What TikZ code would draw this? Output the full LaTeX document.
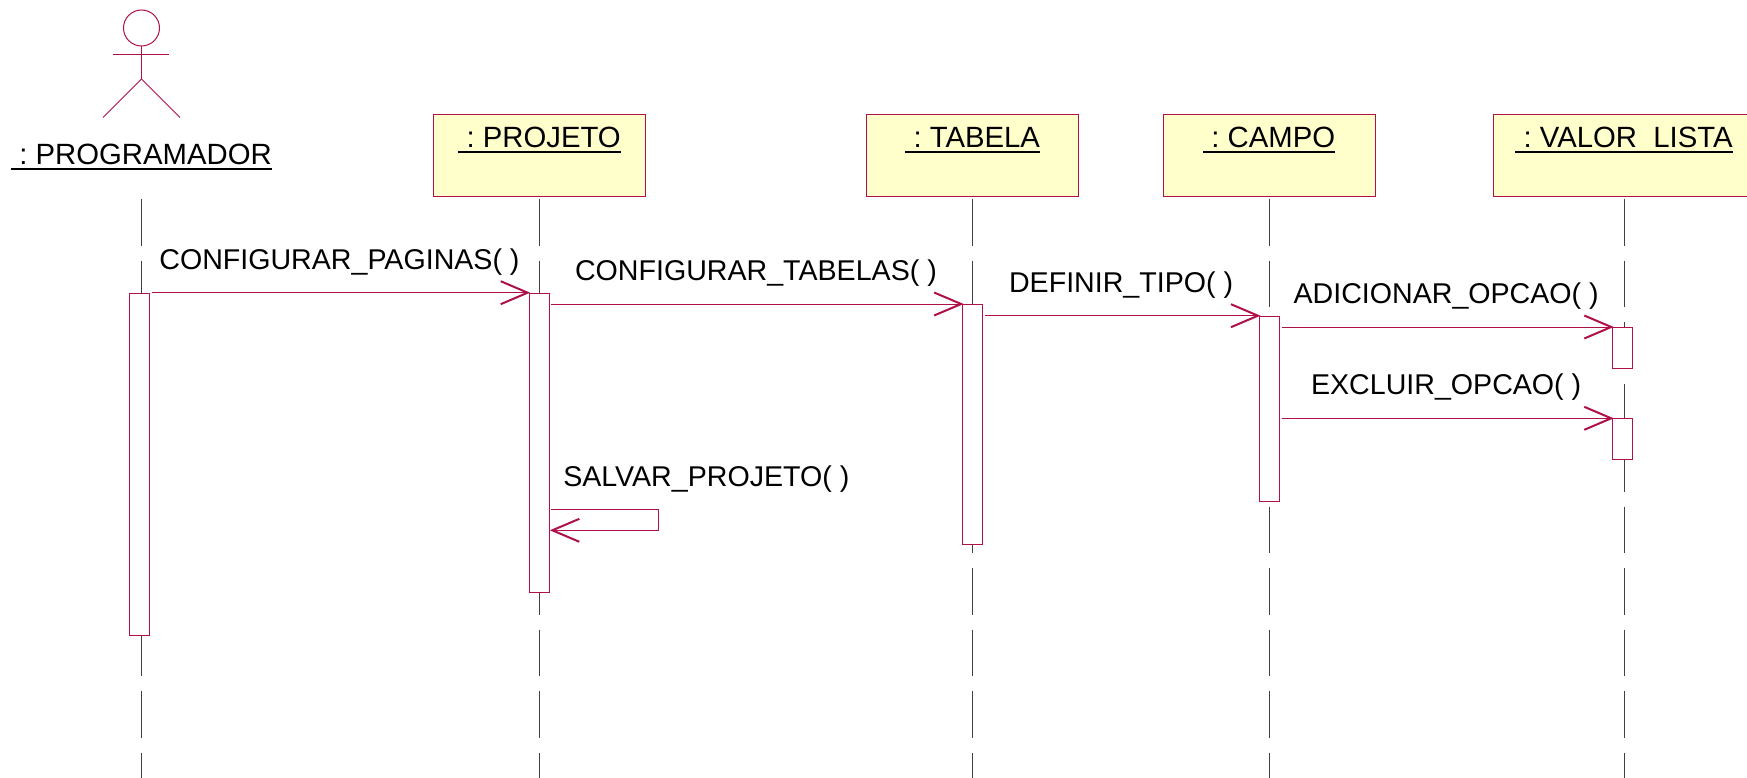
\documentclass[tikz,border=0pt]{standalone}
\usepackage{fontspec}
\setmainfont{Liberation Sans}
\usetikzlibrary{arrows.meta}
\definecolor{umlred}{HTML}{B0104A}
\definecolor{umlfill}{HTML}{FFFFCB}
\definecolor{lifegray}{HTML}{404040}
\newcommand{\objname}[1]{\setbox0\hbox{\fontsize{29.3}{34}\selectfont\ :\ #1}\rlap{\rule[-6.2pt]{\wd0}{2.8pt}}\box0}
\begin{document}
\begin{tikzpicture}[x=1pt, y=-1pt, font=\fontsize{28.6}{34}\selectfont,
  objbox/.style = {draw=umlred, fill=umlfill, line width=1pt, anchor=north, inner sep=0pt, minimum width=212pt, text height=33pt, text depth=49.3pt},
  bar/.style = {draw=umlred, fill=white, line width=1pt, anchor=north, inner sep=0pt, minimum width=20pt},
  msg/.style = {draw=umlred, line width=1pt, shorten >=-1.5pt, -{Straight Barb[length=27pt, width=23pt, line width=2pt]}},
  msglabel/.style = {midway, anchor=base, yshift=23.5pt},
  lifeline/.style = {draw=lifegray, line width=1pt, dash pattern=on 46.5pt off 15pt},
  actorline/.style = {draw=umlred, line width=1pt}]
\useasboundingbox (0,0) rectangle (1747,778);
\coordinate (lifetop) at (0,199);
\coordinate (lifebot) at (0,778);
% actor
\node[draw=umlred, line width=1pt, circle, inner sep=0pt, minimum size=36pt] (head) at (141.5,28) {};
\node[anchor=base, inner sep=0pt] (programador) at (141.5,164.3) {\objname{PROGRAMADOR}};
\draw[actorline] (head.south) -- ++(0,32.5) coordinate (crotch);
\draw[actorline] (crotch) -- ++(-38.5,38.5) coordinate (footl);
\draw[actorline] (crotch) -- ++(38.5,38.5) coordinate (footr);
\draw[actorline] (113,54.3) coordinate (arml) -- (169,54.3) coordinate (armr);
% objects
\node[objbox] (projeto) at (539.6,113.7) {\objname{PROJETO}};
\node[objbox] (tabela) at (972.7,113.7) {\objname{TABELA}};
\node[objbox] (campo) at (1269.2,113.7) {\objname{CAMPO}};
\node[objbox, minimum width=262pt] (valor) at (1624,113.7) {\objname{VALOR\_LISTA}};
% lifelines
\draw[lifeline] (programador |- lifetop) -- (programador |- lifebot);
\draw[lifeline] (projeto |- lifetop) -- (projeto |- lifebot);
\draw[lifeline] (tabela |- lifetop) -- (tabela |- lifebot);
\draw[lifeline] (campo |- lifetop) -- (campo |- lifebot);
\draw[lifeline] (valor |- lifetop) -- (valor |- lifebot);
% activations
\node[bar, minimum height=342pt] (barprog) at (139.7,292.7) {};
\node[bar, minimum height=299.5pt] (barproj) at (539.2,292.7) {};
\node[bar, minimum height=240pt] (bartab) at (972.7,304) {};
\node[bar, minimum height=185.7pt] (barcampo) at (1269.5,315.7) {};
\node[bar, minimum height=40.7pt] (barvalora) at (1622.8,327) {};
\node[bar, minimum height=40.4pt] (barvalorb) at (1622.8,418.3) {};
% messages
\path[msg, shorten <=1.5pt] (barprog.north east) -- node[msglabel] (m1) {CONFIGURAR\_PAGINAS( )} (barproj.north west);
\path[msg, shorten <=1.5pt] (bartab.north west -| barproj.east) -- node[msglabel] (m2) {CONFIGURAR\_TABELAS( )} (bartab.north west);
\path[msg, shorten <=1.5pt] (barcampo.north west -| bartab.east) -- node[msglabel] (m3) {DEFINIR\_TIPO( )} (barcampo.north west);
\path[msg, shorten <=1.5pt] (barvalora.north west -| barcampo.east) -- node[msglabel] (m4) {ADICIONAR\_OPCAO( )} (barvalora.north west);
\path[msg, shorten <=1.5pt] (barvalorb.north west -| barcampo.east) -- node[msglabel] (m5) {EXCLUIR\_OPCAO( )} (barvalorb.north west);
% self message
\coordinate (selfa) at (551.3,509);
\coordinate (selfb) at (658.7,509);
\coordinate (selfc) at (658.7,530.3);
\coordinate (selfd) at (551.3,530.3);
\path[msg] (selfa) -- (selfb) -- (selfc) -- (selfd);
\node[anchor=base] (m6) at (706.3,486.7) {SALVAR\_PROJETO( )};
\end{tikzpicture}
\end{document}
